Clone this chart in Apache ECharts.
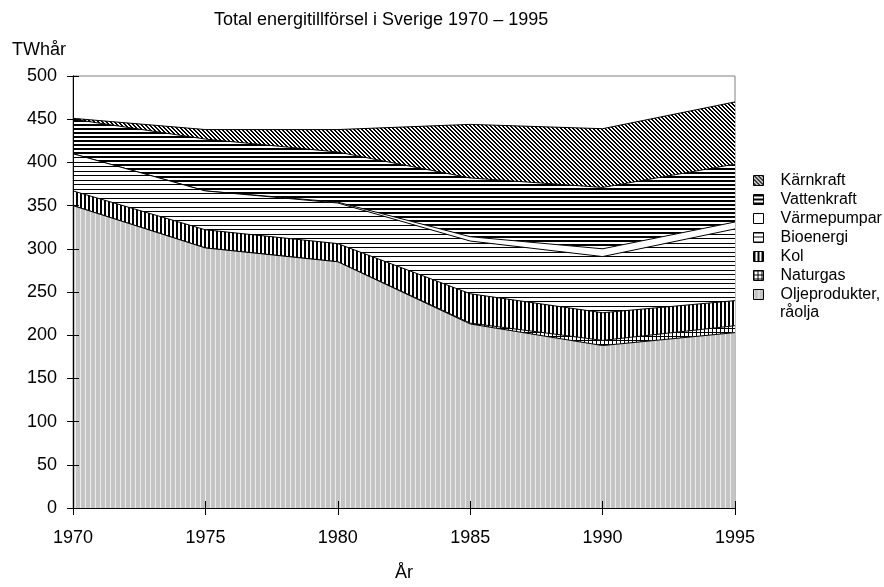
<!DOCTYPE html>
<html>
<head>
<meta charset="utf-8">
<script src="https://cdn.jsdelivr.net/npm/echarts@6/dist/echarts.min.js"></script>
<style>html,body{margin:0;padding:0;background:#fff}#c{width:884px;height:587px}</style>
</head>
<body>
<div id="c"></div>
<script>
// ---- data ----
const years = ['1970', '1975', '1980', '1985', '1990', '1995'];
const oljeprodukter = [350, 301, 285, 213, 188, 203];
const naturgas = [0, 0, 0, 1, 6, 8];
const kol = [17, 21, 21, 34, 32, 29];
const bioenergi = [43, 45, 47, 61, 65, 83];
const varmepumpar = [0, 0, 1, 5, 9, 8];
const vattenkraft = [40, 60, 58, 68, 71, 67];
const karnkraft = [1, 11, 26, 62, 68, 72];
const yTicks = [0, 50, 100, 150, 200, 250, 300, 350, 400, 450, 500];
const titleText = 'Total energitillförsel i Sverige 1970 – 1995';
const yUnit = 'TWhår';
const xName = 'År';
const oljeName = 'Oljeprodukter, råolja';
const oljeLine1 = 'Oljeprodukter,';
const oljeLine2 = 'råolja';

// ---- patterns ----
function pat(w, h, draw) {
  const c = document.createElement('canvas');
  c.width = w; c.height = h;
  const g = c.getContext('2d');
  g.fillStyle = '#fff'; g.fillRect(0, 0, w, h);
  draw(g);
  return { image: c, repeat: 'repeat' };
}
const pOlje = pat(5, 4, g => { g.fillStyle = '#c4c4c4'; g.fillRect(0, 0, 5, 4); g.fillStyle = '#ececec'; g.fillRect(0, 0, 1, 4); });
const pGas = pat(4, 4, g => { g.fillStyle = '#000'; g.fillRect(0, 0, 4, 1); g.fillRect(0, 0, 1, 4); });
const pKol = pat(4, 4, g => { g.fillStyle = '#000'; g.fillRect(0, 0, 2, 4); });
const pBio = pat(4, 9, g => { g.fillStyle = '#000'; g.fillRect(0, 0, 4, 1); g.fillRect(0, 4, 4, 1); });
const pVarme = pat(4, 4, g => {});
const pVatten = pat(4, 4, g => { g.fillStyle = '#000'; g.fillRect(0, 0, 4, 2); });
const pKarn = pat(4, 4, g => {
  g.fillStyle = '#000';
  for (let i = 0; i < 4; i++) { g.fillRect(i, i, 1, 1); g.fillRect((i + 1) % 4, i, 1, 1); }
});

const FONT = "'Liberation Sans', Arial, sans-serif";
const defs = [
  [oljeName, oljeprodukter, pOlje],
  ['Naturgas', naturgas, pGas],
  ['Kol', kol, pKol],
  ['Bioenergi', bioenergi, pBio],
  ['Värmepumpar', varmepumpar, pVarme],
  ['Vattenkraft', vattenkraft, pVatten],
  ['Kärnkraft', karnkraft, pKarn]
];

const series = defs.map((d, i) => ({
  name: d[0],
  type: 'line',
  stack: 'total',
  data: d[1],
  xAxisIndex: 0,
  yAxisIndex: 0,
  symbol: 'none',
  showSymbol: false,
  z: 10 - i,
  lineStyle: { color: '#000', width: 1 },
  itemStyle: { color: d[2], borderColor: '#000' },
  areaStyle: { color: d[2], opacity: 1 },
  emphasis: { disabled: true },
  animation: false
}));

const legendData = defs.slice().reverse().map(d => ({
  name: d[0],
  icon: 'rect',
  itemStyle: { color: d[2], borderColor: '#000', borderWidth: 1 }
}));

const axisFont = { fontFamily: FONT, fontSize: 18, color: '#000' };

const chart = echarts.init(document.getElementById('c'), null, { renderer: 'canvas' });
chart.setOption({
  animation: false,
  backgroundColor: '#fff',
  textStyle: { fontFamily: FONT, color: '#000' },
  title: [
    { text: titleText, left: 209, top: 6, textStyle: { fontFamily: FONT, fontSize: 18, fontWeight: 'normal', color: '#000' } },
    { text: yUnit, left: 7, top: 36, textStyle: { fontFamily: FONT, fontSize: 18, fontWeight: 'normal', color: '#000' } },
    { text: oljeLine2, left: 780, top: 305, padding: 0, textStyle: { fontFamily: FONT, fontSize: 16, fontWeight: 'normal', color: '#000' } }
  ],
  grid: { left: 73, right: 149, top: 76, bottom: 69, show: true, borderColor: '#808080', borderWidth: 1, backgroundColor: 'transparent' },
  legend: {
    orient: 'vertical',
    left: 748,
    top: 166,
    itemWidth: 10,
    itemHeight: 10,
    itemGap: 0,
    selectedMode: false,
    formatter: function (name) { return name === oljeName ? oljeLine1 : name; },
    textStyle: { fontFamily: FONT, fontSize: 16, color: '#000', lineHeight: 19, padding: [0, 0, 0, 12] },
    data: legendData
  },
  xAxis: [{
    type: 'category',
    data: years,
    boundaryGap: false,
    position: 'bottom',
    name: xName,
    nameLocation: 'middle',
    nameGap: 56,
    nameTextStyle: axisFont,
    axisLine: { show: true, lineStyle: { color: '#000', width: 1 } },
    axisTick: { show: true, length: 7, lineStyle: { color: '#000' } },
    axisLabel: Object.assign({ margin: 21 }, axisFont),
    splitLine: { show: false }
  }, {
    type: 'category',
    data: years,
    boundaryGap: false,
    position: 'bottom',
    offset: 0,
    z: 20,
    axisLine: { show: false },
    axisTick: { show: true, inside: true, length: 7, lineStyle: { color: '#000' } },
    axisLabel: { show: false },
    splitLine: { show: false }
  }],
  yAxis: [{
    type: 'value',
    min: yTicks[0],
    max: yTicks[yTicks.length - 1],
    interval: yTicks[1] - yTicks[0],
    position: 'left',
    axisLine: { show: true, lineStyle: { color: '#000', width: 1 } },
    axisTick: { show: true, length: 6, lineStyle: { color: '#000' } },
    axisLabel: Object.assign({ margin: 16 }, axisFont),
    splitLine: { show: false }
  }, {
    type: 'value',
    min: yTicks[0],
    max: yTicks[yTicks.length - 1],
    interval: yTicks[1] - yTicks[0],
    position: 'left',
    offset: 0,
    z: 20,
    axisLine: { show: true, lineStyle: { color: '#000', width: 1 } },
    axisTick: { show: true, inside: true, length: 6, lineStyle: { color: '#000' } },
    axisLabel: { show: false },
    splitLine: { show: false }
  }],
  series: series
});
</script>
</body>
</html>
